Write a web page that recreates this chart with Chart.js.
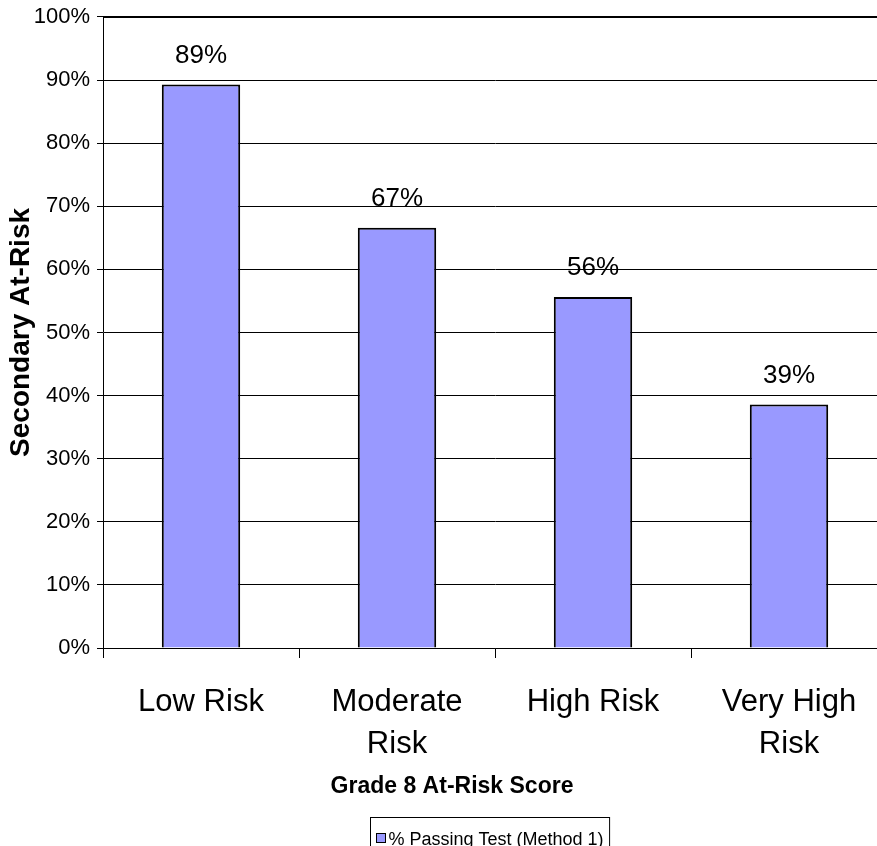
<!DOCTYPE html>
<html>
<head>
<meta charset="utf-8">
<script src="https://cdn.jsdelivr.net/npm/chart.js@4"></script>
<style>
  html, body { margin: 0; padding: 0; background: #fff; overflow: hidden; }
  canvas { display: block; }
</style>
</head>
<body>
<canvas id="riskChart" width="887" height="846"></canvas>
<script>
// Data
const categories = ['Low Risk', ['Moderate', 'Risk'], 'High Risk', ['Very High', 'Risk']];
const passingPct = [89.3, 66.6, 55.6, 38.6];
const seriesLabel = '% Passing Test (Method 1)';
const yTicks = [0, 10, 20, 30, 40, 50, 60, 70, 80, 90, 100];
const xTitle = 'Grade 8 At-Risk Score';
const yTitle = 'Secondary At-Risk';

const FONT = "'Liberation Sans', Arial, sans-serif";
const barColor = '#9999FF';

// Value labels above each bar
const valueLabels = {
  id: 'valueLabels',
  afterDatasetsDraw(chart) {
    const ctx = chart.ctx;
    const meta = chart.getDatasetMeta(0);
    ctx.save();
    ctx.font = '26px ' + FONT;
    ctx.fillStyle = '#000';
    ctx.textAlign = 'center';
    ctx.textBaseline = 'middle';
    meta.data.forEach((bar, i) => {
      ctx.fillText(Math.round(passingPct[i]) + '%', bar.x, bar.y - 29);
    });
    ctx.restore();
  }
};

// x title + boxed legend like the old spreadsheet chart
const bottomExtras = {
  id: 'bottomExtras',
  afterDraw(chart) {
    const ctx = chart.ctx;
    const area = chart.chartArea;
    ctx.save();

    // top border of plot area is a bit heavier
    ctx.strokeStyle = '#000';
    ctx.lineWidth = 2;
    ctx.beginPath();
    ctx.moveTo(area.left, area.top);
    ctx.lineTo(area.right, area.top);
    ctx.stroke();

    ctx.font = 'bold 23px ' + FONT;
    ctx.fillStyle = '#000';
    ctx.textAlign = 'center';
    ctx.textBaseline = 'middle';
    ctx.fillText(xTitle, 452, 787);

    ctx.font = '18px ' + FONT;
    const tw = ctx.measureText(seriesLabel).width;
    const boxW = tw + 24;
    const boxL = Math.round(490 - boxW / 2) + 0.5;
    ctx.lineWidth = 1;
    ctx.strokeStyle = '#000';
    ctx.strokeRect(boxL, 817.5, boxW, 40);

    ctx.fillStyle = barColor;
    ctx.fillRect(boxL + 6, 833.5, 9, 9);
    ctx.strokeRect(boxL + 6, 833.5, 9, 9);

    ctx.fillStyle = '#000';
    ctx.textAlign = 'left';
    ctx.textBaseline = 'alphabetic';
    ctx.fillText(seriesLabel, boxL + 18, 845);
    ctx.restore();
  }
};

const ctx = document.getElementById('riskChart').getContext('2d');
new Chart(ctx, {
  type: 'bar',
  data: {
    labels: categories,
    datasets: [{
      label: seriesLabel,
      data: passingPct,
      backgroundColor: barColor,
      borderColor: '#000',
      borderWidth: 2,
      categoryPercentage: 0.8,
      barPercentage: 0.5
    }]
  },
  options: {
    responsive: false,
    animation: false,
    devicePixelRatio: 1,
    layout: { padding: { top: 16, left: 0, right: 0, bottom: 0 } },
    plugins: {
      legend: { display: false },
      tooltip: { enabled: false }
    },
    scales: {
      x: {
        offset: true,
        afterFit: (scale) => { scale.height = 198; },
        grid: {
          offset: true,
          drawOnChartArea: false,
          drawTicks: true,
          tickLength: 10,
          color: '#000'
        },
        border: { display: true, color: '#000', width: 1 },
        ticks: {
          color: '#000',
          padding: 24,
          maxRotation: 0,
          autoSkip: false,
          font: { family: FONT, size: 31, lineHeight: 1.35 }
        }
      },
      y: {
        min: 0,
        max: 100,
        afterFit: (scale) => { scale.width = 103; },
        afterBuildTicks: (scale) => { scale.ticks = yTicks.map(v => ({ value: v })); },
        grid: {
          color: '#000',
          lineWidth: 1,
          tickLength: 6,
          drawTicks: true
        },
        border: { display: true, color: '#000', width: 1 },
        ticks: {
          color: '#000',
          padding: 7,
          font: { family: FONT, size: 22, lineHeight: 0.9 },
          callback: (v) => v + '%'
        },
        title: {
          display: true,
          text: yTitle,
          color: '#000',
          padding: { top: 4, bottom: 0 },
          font: { family: FONT, size: 28, weight: 'bold' }
        }
      }
    }
  },
  plugins: [valueLabels, bottomExtras]
});
</script>
</body>
</html>
